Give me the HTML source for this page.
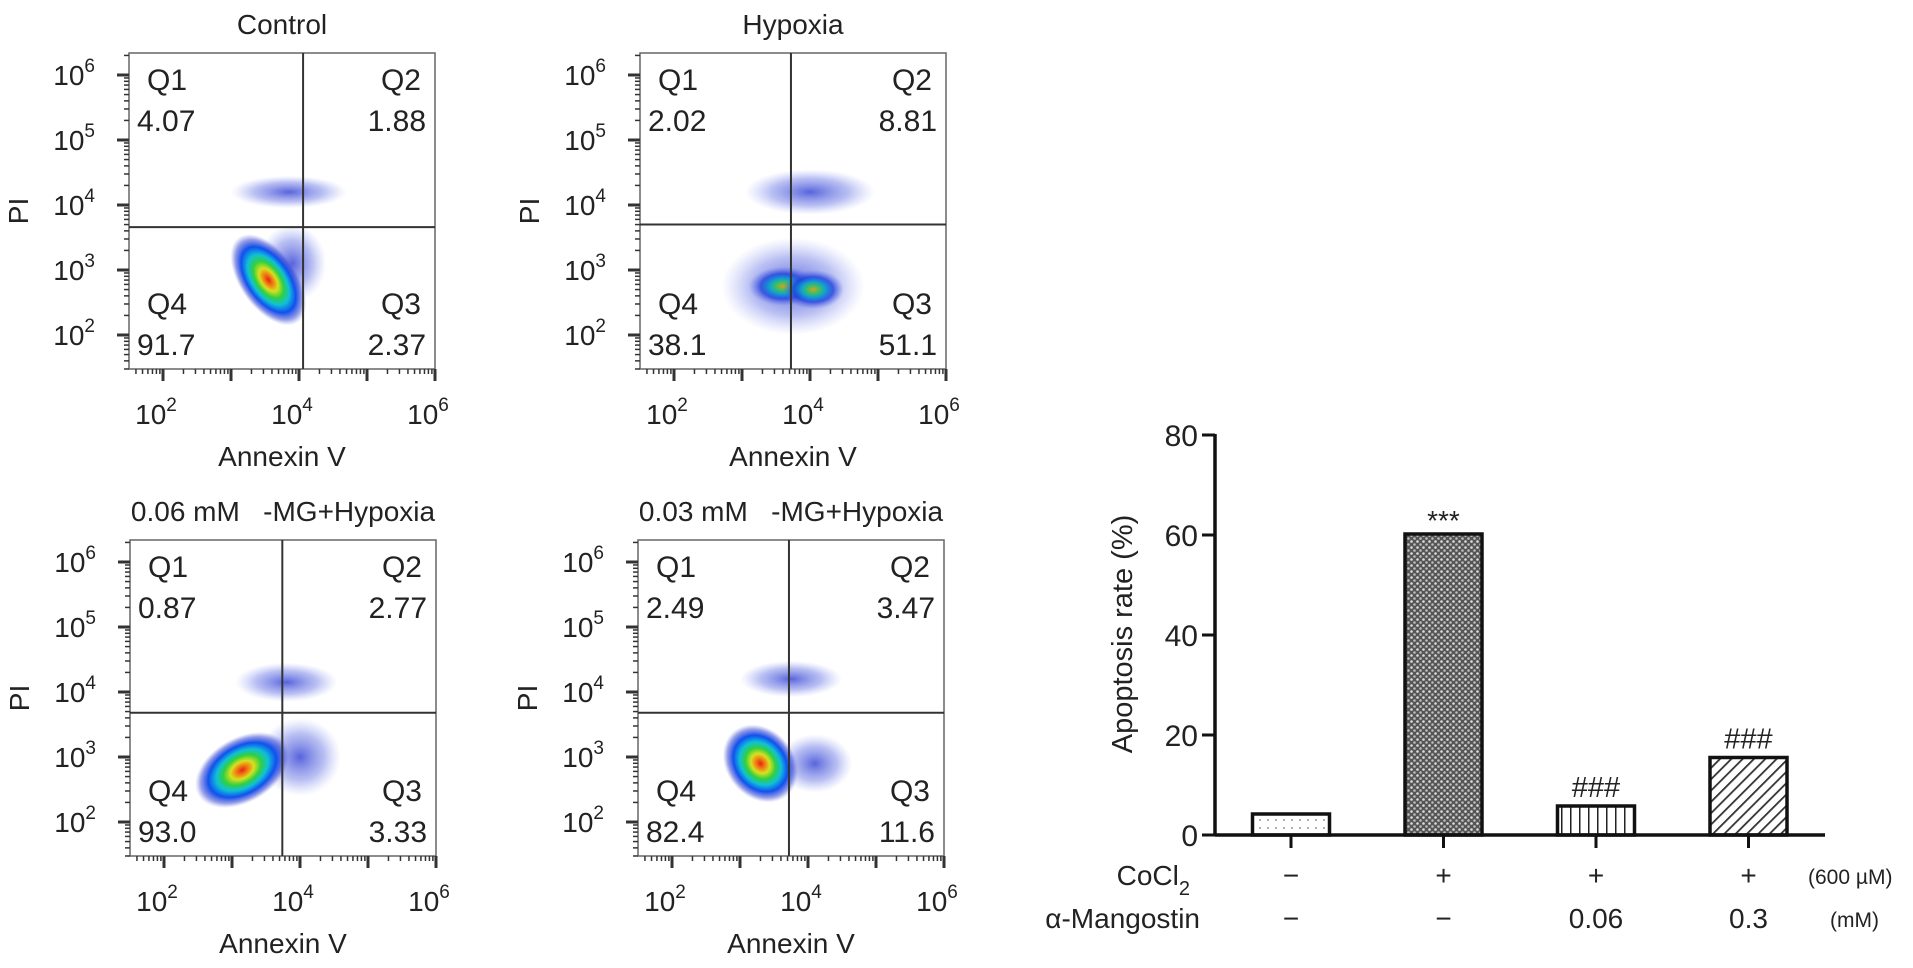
<!DOCTYPE html>
<html><head><meta charset="utf-8">
<style>
html,body{margin:0;padding:0;background:#fff;}
body{width:1913px;height:963px;overflow:hidden;font-family:"Liberation Sans",Arial,sans-serif;}
svg text{font-family:"Liberation Sans",Arial,sans-serif;fill:#222;}
.pre{white-space:pre;}
</style></head>
<body>
<svg id="fig" width="1913" height="963" viewBox="0 0 1913 963" xmlns="http://www.w3.org/2000/svg">
<defs>
  <radialGradient id="dens" cx="50%" cy="50%" r="50%">
    <stop offset="0" stop-color="#e8201a"/>
    <stop offset="0.12" stop-color="#f07a10"/>
    <stop offset="0.25" stop-color="#d8e020"/>
    <stop offset="0.4" stop-color="#30d040"/>
    <stop offset="0.55" stop-color="#10c0d8"/>
    <stop offset="0.72" stop-color="#1050f0"/>
    <stop offset="0.88" stop-color="#3040d0" stop-opacity="0.5"/>
    <stop offset="1" stop-color="#6070e0" stop-opacity="0"/>
  </radialGradient>
  <radialGradient id="dens2" cx="50%" cy="50%" r="50%">
    <stop offset="0" stop-color="#d8a020"/>
    <stop offset="0.2" stop-color="#40c060"/>
    <stop offset="0.4" stop-color="#10a0d0"/>
    <stop offset="0.65" stop-color="#2040e0" stop-opacity="0.8"/>
    <stop offset="1" stop-color="#6070e0" stop-opacity="0"/>
  </radialGradient>
  <radialGradient id="sparse" cx="50%" cy="50%" r="50%">
    <stop offset="0" stop-color="#2030d0" stop-opacity="0.75"/>
    <stop offset="0.6" stop-color="#5060e0" stop-opacity="0.4"/>
    <stop offset="1" stop-color="#8090f0" stop-opacity="0"/>
  </radialGradient>
  <pattern id="pat-dots" width="8" height="8" patternUnits="userSpaceOnUse"><rect width="8" height="8" fill="#fff"/><circle cx="4" cy="4" r="1" fill="#999"/></pattern>
  <pattern id="pat-check" width="6" height="6" patternUnits="userSpaceOnUse"><rect width="6" height="6" fill="#555"/><circle cx="1.5" cy="1.5" r="1.3" fill="#ddd"/><circle cx="4.5" cy="4.5" r="1.3" fill="#bbb"/></pattern>
  <pattern id="pat-vert" width="9" height="9" patternUnits="userSpaceOnUse"><rect width="9" height="9" fill="#fff"/><rect x="4" width="1.5" height="9" fill="#222"/></pattern>
  <pattern id="pat-diag" width="8" height="8" patternUnits="userSpaceOnUse" patternTransform="rotate(45)"><rect width="8" height="8" fill="#fff"/><rect x="0" width="1.8" height="8" fill="#333"/></pattern>
</defs>
<g id="flow"></g>
<g id="bars"></g>
</svg>
<script>
// ---- Flow cytometry panels data ----
const panelTitles = ["Control", "Hypoxia", "0.06 mM   -MG+Hypoxia", "0.03 mM   -MG+Hypoxia"];
const quadValues = [["4.07","1.88","2.37","91.7"],["2.02","8.81","51.1","38.1"],["0.87","2.77","3.33","93.0"],["2.49","3.47","11.6","82.4"]];
const gateX = [4.06, 3.72, 3.74, 3.72];
const gateY = [3.66, 3.70, 3.68, 3.68];
// clusters: [logX, logY, spreadX (decades), spreadY, rotation deg, type]
const clusters = [
  [[3.85,4.2,0.85,0.25,0,"sparse"],[3.9,3.1,0.5,0.6,0,"sparse"],[3.55,2.85,0.42,0.8,35,"dens"]],
  [[4.0,4.2,0.95,0.35,0,"sparse"],[3.75,2.75,1.05,0.75,0,"sparse"],[3.6,2.75,0.5,0.3,0,"dens2"],[4.05,2.7,0.45,0.3,0,"dens2"]],
  [[3.8,4.15,0.75,0.3,0,"sparse"],[4.0,3.0,0.6,0.6,0,"sparse"],[3.15,2.8,0.75,0.5,30,"dens"]],
  [[3.75,4.2,0.75,0.28,0,"sparse"],[4.1,2.9,0.55,0.45,0,"sparse"],[3.3,2.9,0.5,0.65,40,"dens"]]
];
const xTickLabels = ["2","4","6"];
const yTickLabels = ["6","5","4","3","2"];
const panelOrigins = [[129,53],[640,53],[130,540],[638,540]];

const NS = "http://www.w3.org/2000/svg";
function mk(tag, attrs, parent){const e=document.createElementNS(NS,tag);for(const k in attrs)e.setAttribute(k,attrs[k]);parent.appendChild(e);return e;}
const flow = document.getElementById('flow');
const W=306, H=316, DX=68, DY=65;

panelTitles.forEach((title,i)=>{
  const [L,T]=panelOrigins[i];
  const sx = lx => L + 34 + (lx-2)*DX;
  const sy = ly => T + 22 + (6-ly)*DY;
  const g = mk('g',{},flow);
  
  
  const clip = mk('clipPath',{id:'clip'+i},g);
  mk('rect',{x:L,y:T,width:W,height:H},clip);
  const cg = mk('g',{'clip-path':'url(#clip'+i+')'},g);
  clusters[i].forEach((c,j)=>{
    const cx=sx(c[0]), cy=sy(c[1]);
    const e = mk('ellipse',{cx:cx,cy:cy,rx:c[2]*DX,ry:c[3]*DY,fill:'url(#'+c[5]+')',transform:'rotate('+(-c[4])+' '+cx+' '+cy+')'},cg);
    
    
  });
  const box = mk('rect',{x:L,y:T,width:W,height:H,fill:'none',stroke:'#666','stroke-width':1.5},g);
  
  
  const gv = mk('line',{x1:sx(gateX[i]),x2:sx(gateX[i]),y1:T,y2:T+H,stroke:'#333','stroke-width':2},g);
  
  
  const gh = mk('line',{x1:L,x2:L+W,y1:sy(gateY[i]),y2:sy(gateY[i]),stroke:'#333','stroke-width':2},g);
  
  
  for(let d=1; d<=6; d++){
    for(let m=1;m<10;m++){
      const lv = d+Math.log10(m);
      const yy=sy(lv);
      if(yy>=T && yy<=T+H){
        const len = m===1?12:5;
        mk('line',{x1:L-len,x2:L,y1:yy,y2:yy,stroke:'#333','stroke-width':m===1?3:1.5},g);
      }
      const xx=sx(lv);
      if(xx>=L && xx<=L+W+1){
        const len = m===1?12:5;
        mk('line',{x1:xx,x2:xx,y1:T+H,y2:T+H+len,stroke:'#333','stroke-width':m===1?3:1.5},g);
      }
    }
  }
  yTickLabels.forEach(t=>{
    const yy=sy(+t);
    const tx = mk('text',{x:L-34,y:yy+10,'font-size':28,'text-anchor':'end'},g);
    tx.textContent='10';
    const sp = mk('tspan',{dy:-13,'font-size':19},tx); sp.textContent=t;
    
    
  });
  xTickLabels.forEach(t=>{
    const xx=sx(+t);
    const tx = mk('text',{x:xx-7,y:T+H+55,'font-size':28,'text-anchor':'middle'},g);
    tx.textContent='10';
    const sp = mk('tspan',{dy:-13,'font-size':19},tx); sp.textContent=t;
    
    
  });
  const xt = mk('text',{x:L+W/2,y:T+H+97,'font-size':28,'text-anchor':'middle'},g);
  xt.textContent='Annexin V';
  
  
  const yt = mk('text',{x:0,y:0,'font-size':28,'text-anchor':'middle',transform:'translate('+(L-101)+','+(T+H/2)+') rotate(-90)'},g);
  yt.textContent='PI';
  
  
  const tt = mk('text',{x:L+W/2,y:T-19,'font-size':28,'text-anchor':'middle','class':'pre'},g);
  tt.textContent=title;
  
  
  const qv=quadValues[i];
  const ql=[[L+8,'start',T+37,'Q1',qv[0]],[L+W-9,'end',T+37,'Q2',qv[1]],[L+W-9,'end',T+H-55,'Q3',qv[2]],[L+8,'start',T+H-55,'Q4',qv[3]]];
  ql.forEach(q=>{
    const a = mk('text',{x:q[1]==='start'?q[0]+10:q[0]-5,y:q[2],'font-size':30,'text-anchor':q[1]},g);
    a.textContent=q[3];
    
    
    const b = mk('text',{x:q[0],y:q[2]+41,'font-size':30,'text-anchor':q[1]},g);
    b.textContent=q[4];
    
    
  });
});

// ---- Bar chart data ----
const barValues = [4.2, 60.2, 5.8, 15.5];
const barFills = ["pat-dots","pat-check","pat-vert","pat-diag"];
const barMarks = ["", "***", "###", "###"];
const cocl2Row = ["\u2212","+","+","+"];
const mgRow = ["\u2212","\u2212","0.06","0.3"];
const yTicks = [0,20,40,60,80];

const bg = document.getElementById('bars');
const AX=1215, Y0=835, YS=400/80, X0=1291, XSTEP=152.5, BW=77;
const by = v => Y0 - v*YS;
const bx = i => X0 + i*XSTEP;
yTicks.forEach(t=>{
  mk('line',{x1:AX-13,x2:AX,y1:by(t),y2:by(t),stroke:'#111','stroke-width':3},bg);
  const tx=mk('text',{x:AX-17,y:by(t)+11,'font-size':30,'text-anchor':'end'},bg);
  tx.textContent=t;
  
  
});
const ya=mk('line',{x1:AX,x2:AX,y1:by(80)-1,y2:Y0+1.5,stroke:'#111','stroke-width':3.5},bg);


barValues.forEach((v,i)=>{
  const r=mk('rect',{x:bx(i)-BW/2,y:by(v),width:BW,height:Y0-by(v),fill:'url(#'+barFills[i]+')',stroke:'#111','stroke-width':3.5},bg);
  
  
  mk('line',{x1:bx(i),x2:bx(i),y1:Y0,y2:Y0+13,stroke:'#111','stroke-width':3},bg);
  if(barMarks[i]){
    const m=mk('text',{x:bx(i),y:by(v)-(barMarks[i]==='***'?4:9),'font-size':barMarks[i]==='***'?28:29,'text-anchor':'middle'},bg);
    m.textContent=barMarks[i];
    
    
  }
  const c=mk('text',{x:bx(i),y:885,'font-size':28,'text-anchor':'middle'},bg);
  c.textContent=cocl2Row[i];
  
  
  const mm=mk('text',{x:bx(i),y:928,'font-size':28,'text-anchor':'middle'},bg);
  mm.textContent=mgRow[i];
  
  
});
const xa=mk('line',{x1:AX,x2:1825,y1:Y0,y2:Y0,stroke:'#111','stroke-width':3.5},bg);


const yl=mk('text',{x:0,y:0,'font-size':29,'text-anchor':'middle',transform:'translate(1132,634) rotate(-90)'},bg);
yl.textContent='Apoptosis rate (%)';


const cl=mk('text',{x:1190,y:885,'font-size':28,'text-anchor':'end'},bg);
cl.textContent='CoCl';
const sub=mk('tspan',{dy:10,'font-size':20},cl); sub.textContent='2';


const ml=mk('text',{x:1200,y:928,'font-size':28,'text-anchor':'end'},bg);
ml.textContent='\u03b1-Mangostin';


const u1=mk('text',{x:1808,y:884,'font-size':21},bg);
u1.textContent='(600 \u00b5M)';


const u2=mk('text',{x:1830,y:927,'font-size':21},bg);
u2.textContent='(mM)';


</script>
</body></html>
